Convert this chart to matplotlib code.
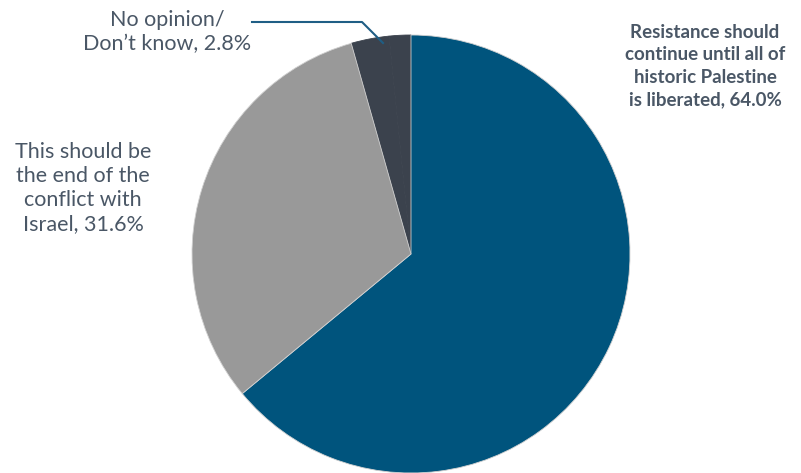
import matplotlib
matplotlib.use("Agg")
import matplotlib.pyplot as plt

# survey shares (%), clockwise from 12 o'clock
LABELS = [
    "Resistance should\ncontinue until all of\nhistoric Palestine\nis liberated, 64.0%",
    "This should be\nthe end of the\nconflict with\nIsrael, 31.6%",
    "No opinion/\nDon\u2019t know, 2.8%",
    "",
]
VALUES = [64.0, 31.6, 2.8, 1.6]
COLORS = ["#00547D", "#999999", "#3B424D", "#3B424D"]
TEXT_COLOR = "#4A5766"

plt.rcParams["font.family"] = ["Lato", "DejaVu Sans"]

fig = plt.figure(figsize=(8.01, 4.73), dpi=100)
ax = fig.add_axes([0, 0, 1, 1])

wedges, _ = ax.pie(VALUES, colors=COLORS, startangle=90, counterclock=False,
                   center=(411, 219), radius=219,
                   wedgeprops=dict(linewidth=0.6, edgecolor="#d0d0d0"))
# the two dark pieces read as one slice: hide the seam between them
for w in wedges[2:]:
    w.set_edgecolor(w.get_facecolor())
    w.set_zorder(1)
for w in wedges[:2]:
    w.set_zorder(2)

ax.set_xlim(0, 801)
ax.set_ylim(0, 473)
ax.set_aspect("equal")
ax.axis("off")

ax.text(705, 407, LABELS[0], ha="center", va="center", fontsize=13.5,
        fontweight="bold", color=TEXT_COLOR, linespacing=1.4)
ax.text(83, 285, LABELS[1], ha="center", va="center", fontsize=15.5,
        color=TEXT_COLOR, linespacing=1.27)
ax.text(167, 441, LABELS[2], ha="center", va="center", fontsize=15.5,
        color=TEXT_COLOR, linespacing=1.27)

# leader line for the small slice
ax.plot([252, 362, 383], [451, 451, 430], color="#1F5E85", linewidth=1.5,
        zorder=3)

fig.savefig("out.png", dpi=100)
plt.close(fig)
